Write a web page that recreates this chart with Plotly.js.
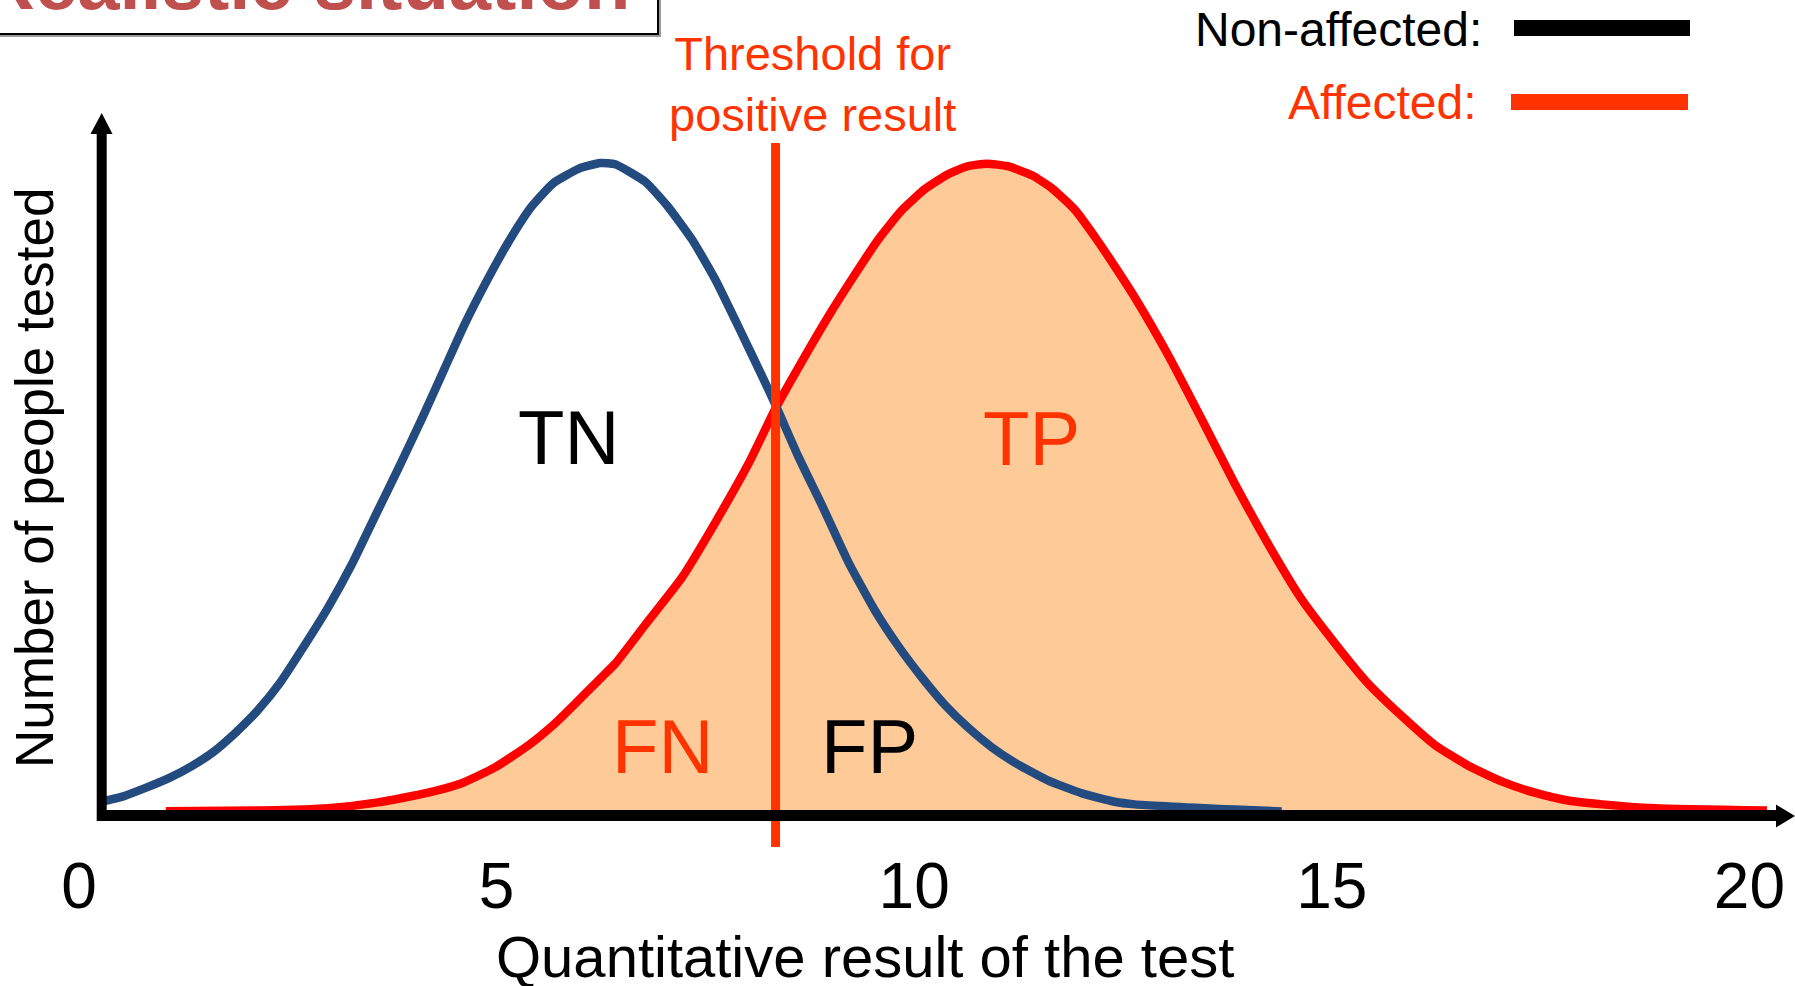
<!DOCTYPE html>
<html>
<head>
<meta charset="utf-8">
<script src="https://cdn.plot.ly/plotly-3.0.1.min.js"></script>
<style>
  html, body { margin: 0; padding: 0; background: #ffffff; }
  #chart { width: 1795px; height: 986px; }
</style>
</head>
<body>
<div id="chart"></div>
<script>
// ---------------- data ----------------
const tickValues = [0, 5, 10, 15, 20];
const tickLabels = ["0", "5", "10", "15", "20"];

// Non-affected population (blue curve)
const nonAffectedX = [0.26, 0.52, 0.79, 1.07, 1.35, 1.60, 1.87, 2.14, 2.41, 2.68,
  2.98, 3.27, 3.54, 3.82, 4.11, 4.38, 4.62, 4.89, 5.16, 5.42,
  5.68, 5.98, 6.24, 6.42, 6.78, 7.05, 7.34, 7.62, 7.89, 8.18,
  8.35, 8.61, 8.90, 9.21, 9.53, 9.81, 10.09, 10.37, 10.64, 10.93,
  11.21, 11.60, 12.01, 12.40, 12.64, 13.84, 14.40];
const nonAffectedY = [1.5, 2.3, 3.6, 5.1, 7.0, 9.1, 12.1, 15.6, 19.9, 25.2,
  31.4, 38.2, 45.4, 52.8, 60.7, 68.4, 75.2, 82.0, 88.2, 93.3,
  96.9, 99.1, 100, 99.8, 97.1, 93.3, 88.2, 82.0, 74.9, 67.1,
  62.4, 54.8, 47.1, 38.5, 31.0, 25.5, 20.7, 16.4, 13.0, 9.9,
  7.5, 4.8, 2.8, 1.5, 1.1, 0.3, 0];

// Affected population (red curve, shaded)
const affectedX = [1.04, 2.19, 2.98, 3.58, 4.18, 4.59, 4.98, 5.38, 5.70, 5.97,
  6.21, 6.42, 6.78, 7.22, 7.62, 8.01, 8.35, 8.66, 8.97, 9.29,
  9.57, 9.85, 10.13, 10.41, 10.64, 10.87, 11.12, 11.41, 11.65, 11.93,
  12.17, 12.40, 12.64, 13.04, 13.45, 13.84, 14.24, 14.64, 15.04, 15.43,
  15.84, 16.24, 16.63, 17.04, 17.43, 17.83, 18.24, 18.87, 20.21];
const affectedY = [0.05, 0.15, 0.5, 1.4, 2.9, 4.4, 6.8, 10.2, 13.6, 17.0,
  20.1, 22.8, 28.8, 36.1, 44.6, 53.5, 62.4, 69.5, 76.3, 82.8,
  88.2, 92.7, 96.0, 98.3, 99.5, 99.9, 99.5, 98.1, 96.1, 92.7,
  88.5, 84.1, 79.3, 70.4, 60.3, 50.5, 41.2, 32.7, 25.9, 19.8,
  14.7, 10.2, 7.1, 4.6, 2.9, 1.7, 1.1, 0.5, 0.15];

const threshold = 8.34;

const regionLabels = ["TN", "TP", "FN", "FP"];
const regionLabelX = [5.86, 11.40, 6.99, 9.46];
const regionLabelY = [57.6, 57.5, 10.1, 10.1];

const titleText = "Realistic situation";
const thresholdText = "Threshold for<br>positive result";
const legendNames = ["Non-affected:", "Affected:"];
const xTitle = "Quantitative result of the test";
const yTitle = "Number of people tested";

// ---------------- layout helpers ----------------
const W = 1795, H = 986;
const X0PX = 79, XSCALE = 83.52;    // pixel of x=0, px per unit
const Y0PX = 811.5, YSCALE = 6.485; // pixel of y=0, px per unit
const FONT = "Liberation Sans, Arial, Helvetica, sans-serif";
const ORANGE = "#FF3300";
const px = p => p / W;
const py = p => 1 - p / H;

const traces = [
  {
    x: affectedX, y: affectedY, type: "scatter", mode: "lines",
    line: { color: "#FF0000", width: 8.5, shape: "spline", smoothing: 0.5 },
    fill: "tozeroy", fillcolor: "#FDCA98",
    hoverinfo: "skip", name: "Affected"
  },
  {
    x: nonAffectedX, y: nonAffectedY, type: "scatter", mode: "lines",
    line: { color: "#234B7F", width: 8.5, shape: "spline", smoothing: 0.5 },
    hoverinfo: "skip", name: "Non-affected"
  }
];

const shapes = [
  // title box with shadow
  { type: "rect", xref: "paper", yref: "paper", x0: px(-10), x1: px(661), y0: py(37), y1: py(-10),
    fillcolor: "#9A9A9A", line: { width: 0 }, layer: "above" },
  { type: "rect", xref: "paper", yref: "paper", x0: px(-10), x1: px(658), y0: py(34), y1: py(-10),
    fillcolor: "#FFFFFF", line: { color: "#000000", width: 2 }, layer: "above" },
  // threshold line
  { type: "line", xref: "x", yref: "y", x0: threshold, x1: threshold, y0: -5.47, y1: 103.1,
    line: { color: ORANGE, width: 9 }, layer: "above" },
  // y axis line + arrow
  { type: "line", xref: "paper", yref: "paper", x0: px(101.7), x1: px(101.7), y0: py(821), y1: py(130),
    line: { color: "#000000", width: 10 }, layer: "above" },
  { type: "path", xref: "paper", yref: "paper",
    path: `M ${px(101.7)},${py(113)} L ${px(90.5)},${py(134)} L ${px(112.5)},${py(134)} Z`,
    fillcolor: "#000000", line: { width: 0 }, layer: "above" },
  // x axis line + arrow
  { type: "line", xref: "paper", yref: "paper", x0: px(97), x1: px(1778), y0: py(815.5), y1: py(815.5),
    line: { color: "#000000", width: 11 }, layer: "above" },
  { type: "path", xref: "paper", yref: "paper",
    path: `M ${px(1795)},${py(816)} L ${px(1776)},${py(804.5)} L ${px(1776)},${py(827.5)} Z`,
    fillcolor: "#000000", line: { width: 0 }, layer: "above" },
  // legend swatches
  { type: "rect", xref: "paper", yref: "paper", x0: px(1514), x1: px(1690), y0: py(36), y1: py(20),
    fillcolor: "#000000", line: { width: 0 }, layer: "above" },
  { type: "rect", xref: "paper", yref: "paper", x0: px(1511), x1: px(1688), y0: py(110), y1: py(94),
    fillcolor: ORANGE, line: { width: 0 }, layer: "above" }
];

const regionColors = ["#000000", ORANGE, ORANGE, "#000000"];
const annotations = [];
regionLabels.forEach((t, i) => {
  annotations.push({ text: t, xref: "x", yref: "y", x: regionLabelX[i], y: regionLabelY[i],
    xanchor: "center", yanchor: "middle", showarrow: false,
    font: { family: FONT, size: 76, color: regionColors[i] } });
});
annotations.push(
  { text: titleText, xref: "paper", yref: "paper", x: px(632), y: py(27),
    xanchor: "right", yanchor: "bottom", showarrow: false,
    font: { family: FONT, size: 76, color: "#C0504D", weight: "bold" } },
  { text: thresholdText, xref: "paper", yref: "paper", x: px(812), y: py(84),
    xanchor: "center", yanchor: "middle", showarrow: false, align: "center",
    font: { family: FONT, size: 47, color: ORANGE } },
  { text: legendNames[0], xref: "paper", yref: "paper", x: px(1484), y: py(29),
    xanchor: "right", yanchor: "middle", showarrow: false,
    font: { family: FONT, size: 48, color: "#000000" } },
  { text: legendNames[1], xref: "paper", yref: "paper", x: px(1479), y: py(102.5),
    xanchor: "right", yanchor: "middle", showarrow: false,
    font: { family: FONT, size: 48, color: ORANGE } },
  { text: xTitle, xref: "paper", yref: "paper", x: px(865), y: py(956),
    xanchor: "center", yanchor: "middle", showarrow: false,
    font: { family: FONT, size: 58, color: "#000000" } },
  { text: yTitle, xref: "paper", yref: "paper", x: px(34.5), y: py(478.5), textangle: -90,
    xanchor: "center", yanchor: "middle", showarrow: false,
    font: { family: FONT, size: 53, color: "#000000" } }
);

const layout = {
  width: W, height: H, autosize: false,
  margin: { l: 0, r: 0, t: 0, b: 0, pad: 0 },
  paper_bgcolor: "#FFFFFF", plot_bgcolor: "rgba(0,0,0,0)",
  showlegend: false,
  xaxis: {
    range: [(0 - X0PX) / XSCALE, (W - X0PX) / XSCALE],
    anchor: "free", position: 1 - 815.5 / H,
    showgrid: false, zeroline: false, showline: false, ticks: "",
    tickmode: "array", tickvals: tickValues, ticktext: tickLabels,
    ticklabelstandoff: 27,
    tickfont: { family: FONT, size: 64, color: "#000000" },
    fixedrange: true
  },
  yaxis: {
    range: [(Y0PX - H) / YSCALE, Y0PX / YSCALE],
    showgrid: false, zeroline: false, showline: false, showticklabels: false, ticks: "",
    fixedrange: true
  },
  shapes: shapes,
  annotations: annotations
};

Plotly.newPlot("chart", traces, layout, { staticPlot: true, displayModeBar: false });
</script>
</body>
</html>
